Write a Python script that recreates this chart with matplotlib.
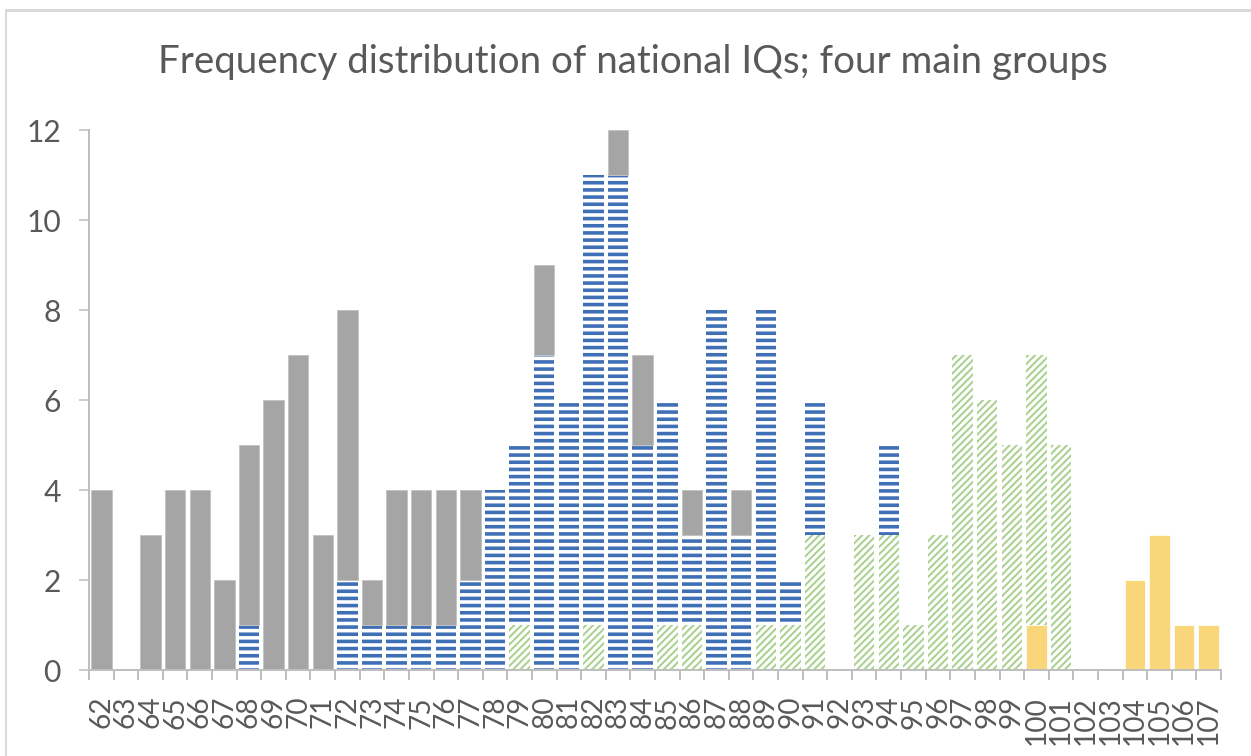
import matplotlib
matplotlib.use("Agg")
import matplotlib.pyplot as plt
import numpy as np
from matplotlib.lines import Line2D

# IQ categories and counts per group (stacked bottom -> top: yellow, green, blue, gray)
iq = list(range(62, 108))
gray = [4, 0, 3, 4, 4, 2, 4, 6, 7, 3,
        6, 1, 3, 3, 3, 2, 0, 0, 2, 0,
        0, 1, 2, 0, 1, 0, 1, 0, 0, 0,
        0, 0, 0, 0, 0, 0, 0, 0, 0, 0,
        0, 0, 0, 0, 0, 0]
blue = [0, 0, 0, 0, 0, 0, 1, 0, 0, 0,
        2, 1, 1, 1, 1, 2, 4, 4, 7, 6,
        10, 11, 5, 5, 2, 8, 3, 7, 1, 3,
        0, 0, 2, 0, 0, 0, 0, 0, 0, 0,
        0, 0, 0, 0, 0, 0]
green = [0, 0, 0, 0, 0, 0, 0, 0, 0, 0,
         0, 0, 0, 0, 0, 0, 0, 1, 0, 0,
         1, 0, 0, 1, 1, 0, 0, 1, 1, 3,
         0, 3, 3, 1, 3, 7, 6, 5, 6, 5,
         0, 0, 0, 0, 0, 0]
yellow = [0, 0, 0, 0, 0, 0, 0, 0, 0, 0,
          0, 0, 0, 0, 0, 0, 0, 0, 0, 0,
          0, 0, 0, 0, 0, 0, 0, 0, 0, 0,
          0, 0, 0, 0, 0, 0, 0, 0, 1, 0,
          0, 0, 2, 3, 1, 1]

DPI = 86.4
W, H = 1251, 756
pt = 72.0 / DPI  # pixels -> points

plt.rcParams['font.family'] = ['Lato', 'DejaVu Sans']
txt = '#595959'
axc = '#BFBFBF'

fig = plt.figure(figsize=(W / DPI, H / DPI), dpi=DPI)
ax = fig.add_axes([89 / W, (H - 670) / H, (1221 - 89) / W, 540 / H])

x = np.arange(len(iq))
bw = 0.83


def stack_bar(vals, bottom, hlw=None, **kw):
    vals = np.asarray(vals, dtype=float)
    m = vals > 0
    if hlw is None:
        return ax.bar(x[m], vals[m], bw, bottom=bottom[m], **kw)
    with plt.rc_context({'hatch.linewidth': hlw}):
        bars = ax.bar(x[m], vals[m], bw, bottom=bottom[m], **kw)
        for p in bars:
            if hasattr(p, 'set_hatch_linewidth'):
                p.set_hatch_linewidth(hlw)
    return bars


b0 = np.zeros(len(iq))
stack_bar(yellow, b0, color='#F9D67A', edgecolor='white', linewidth=0.6)
b1 = b0 + np.array(yellow)
stack_bar(green, b1, hlw=2.0 * pt, color='white', edgecolor='#A9D18E', hatch='////', linewidth=0)
b2 = b1 + np.array(green)
stack_bar(blue, b2, hlw=3.6 * pt, color='white', edgecolor='#3F6FB5', hatch='--', linewidth=0)
b3 = b2 + np.array(blue)
stack_bar(gray, b3, color='#A5A5A5', edgecolor='#C4C4C4', linewidth=0.8)

ax.set_xlim(-0.5, len(iq) - 0.5)
ax.set_ylim(0, 12)
ax.set_yticks(range(0, 13, 2))
ax.set_xticks(x)
ax.set_xticklabels([str(v) for v in iq], rotation=90)
ax.set_xticks(np.arange(len(iq) + 1) - 0.5, minor=True)

for s in ['top', 'right']:
    ax.spines[s].set_visible(False)
for s in ['left', 'bottom']:
    ax.spines[s].set_color(axc)
    ax.spines[s].set_linewidth(2 * pt)

ax.tick_params(axis='y', length=10 * pt, width=1.5 * pt, color=axc, labelcolor=txt,
               labelsize=30 * pt, pad=18 * pt)
ax.tick_params(axis='x', which='major', length=0, labelcolor=txt, labelsize=28 * pt, pad=26 * pt)
ax.tick_params(axis='x', which='minor', length=10 * pt, width=2 * pt, color=axc)

fig.text(633 / W, 1 - 73 / H, 'Frequency distribution of national IQs; four main groups',
         ha='center', va='baseline', fontsize=38.5 * pt, color=txt)

# chart-area border (visible on top and left)
fig.add_artist(Line2D([6 / W, 1], [1 - 10 / H, 1 - 10 / H], transform=fig.transFigure,
                      color='#D9D9D9', linewidth=3 * pt))
fig.add_artist(Line2D([6 / W, 6 / W], [0, 1 - 10 / H], transform=fig.transFigure,
                      color='#D9D9D9', linewidth=2 * pt))

fig.savefig('out.png', dpi=DPI)
